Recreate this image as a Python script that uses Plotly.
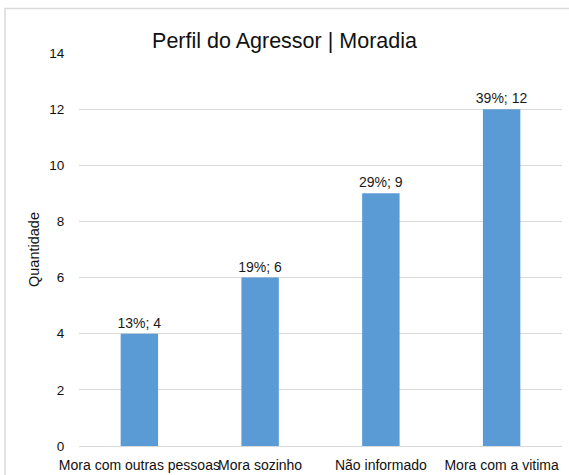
import plotly.graph_objects as go

categories = ["Mora com outras pessoas", "Mora sozinho", "Não informado", "Mora com a vitima"]
values = [4, 6, 9, 12]
percents = [13, 19, 29, 39]
y_ticks = [0, 2, 4, 6, 8, 10, 12, 14]

labels = [f"{p}%; {v}" for p, v in zip(percents, values)]

W, H = 569, 475
L, R, T, B = 79, 7, 52.5, 28.5
pw = W - L - R
ph = H - T - B
FONT = "Liberation Sans"

fig = go.Figure(go.Bar(
    x=categories, y=values, text=labels, textposition="outside",
    textfont=dict(size=14, color="#1a1a1a", family=FONT),
    marker=dict(color="#5B9BD5", line=dict(width=0)),
    width=0.31, cliponaxis=False, constraintext="none",
))

fig.update_layout(
    width=W, height=H,
    margin=dict(l=L, r=R, t=T, b=B, autoexpand=False),
    paper_bgcolor="white", plot_bgcolor="white",
    font=dict(family=FONT, color="#1a1a1a"),
    title=dict(text="Perfil do Agressor | Moradia", x=0.5, xref="container",
               xanchor="center", y=1 - 40 / H, yanchor="middle",
               font=dict(size=21.5, color="#111111", family=FONT)),
    showlegend=False,
    xaxis=dict(tickangle=0, tickfont=dict(size=14, color="#111111", family=FONT),
               showgrid=False, showline=False, ticks="outside", ticklen=6,
               tickcolor="rgba(0,0,0,0)", automargin=False),
    yaxis=dict(range=[0, 14], tickvals=y_ticks, showgrid=True, gridcolor="#d9d9d9",
               gridwidth=1, zeroline=True, zerolinecolor="#d9d9d9", zerolinewidth=1,
               tickfont=dict(size=13.5, color="#111111", family=FONT), ticks="outside", ticklen=11,
               tickcolor="rgba(0,0,0,0)", automargin=False,
               title=dict(text="Quantidade", font=dict(size=14.5, color="#111111", family=FONT), standoff=6)),
    shapes=[dict(type="rect", xref="paper", yref="paper",
                 x0=(5 - L) / pw, x1=(W + 10 - L) / pw,
                 y0=-(B + 10) / ph, y1=(H - B - 8) / ph,
                 line=dict(color="#d9d9d9", width=1.5), fillcolor="rgba(0,0,0,0)", layer="below")],
)

fig.write_html("out.html", config={"displayModeBar": False},
               post_script="document.body.style.margin='0';")
